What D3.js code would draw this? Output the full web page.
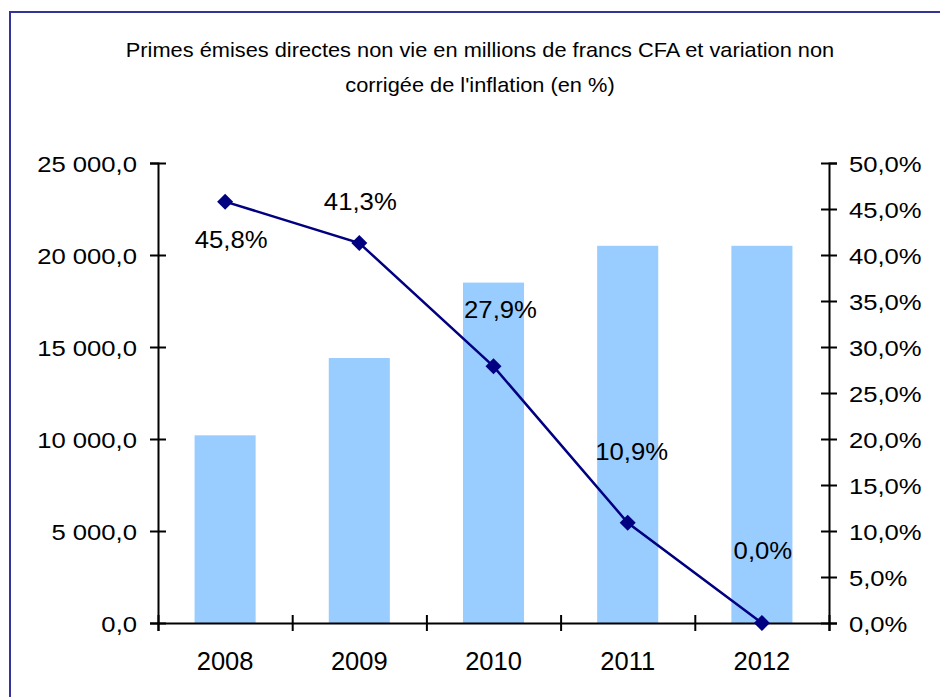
<!DOCTYPE html>
<html>
<head>
<meta charset="utf-8">
<script src="https://cdn.jsdelivr.net/npm/d3@7"></script>
<style>
  html, body { margin: 0; padding: 0; background: #fff; }
  svg { display: block; font-family: "Liberation Sans", Arial, sans-serif; }
</style>
</head>
<body>
<svg id="chart" width="940" height="697"></svg>
<script>
// Chart data
const years = ["2008", "2009", "2010", "2011", "2012"];
const primes = [10200, 14400, 18500, 20500, 20500];      // millions de francs CFA
const variation = [45.8, 41.3, 27.9, 10.9, 0.0];          // % non corrigée de l'inflation
const leftTicks = [0, 5000, 10000, 15000, 20000, 25000];
const rightTicks = [0, 5, 10, 15, 20, 25, 30, 35, 40, 45, 50];
const titleLines = [
  "Primes émises directes non vie en millions de francs CFA et variation non",
  "corrigée de l'inflation (en %)"
];

// Layout
const W = 940, H = 697;
const plot = { left: 158, right: 829, top: 163, bottom: 623 };
// label offsets (dx, dy) from each marker to the centre of its value label
const labelOffsets = [[6, 38], [1, -42], [7, -57], [4, -72], [1, -73]];

const fr = d3.formatLocale({ decimal: ",", thousands: " ", grouping: [3], currency: ["", ""] });
const fmtLeft = fr.format(",.1f");
const fmtPct = v => fr.format(".1f")(v) + "%";

const svg = d3.select("#chart");

// Frame
svg.append("rect")
  .attr("x", 10).attr("y", 12)
  .attr("width", W + 20).attr("height", H + 20)
  .attr("fill", "#fff").attr("stroke", "#333399").attr("stroke-width", 2);

// Horizontally widened text helper
function wide(sel, sx) {
  sel.each(function () {
    const t = d3.select(this);
    const x = +t.attr("x") || 0;
    t.attr("x", x / sx).attr("transform", `scale(${sx},1)`);
  });
}

// Title
const title = svg.append("g").attr("fill", "#000").attr("font-size", 20).attr("text-anchor", "middle");
title.selectAll("text").data(titleLines).join("text")
  .attr("x", 480).attr("y", (d, i) => 57 + i * 35)
  .text(d => d)
  .call(wide, 1.09);

// Scales
const x = d3.scaleBand().domain(years).range([plot.left, plot.right])
  .paddingInner(0.545).paddingOuter(0.2725);
const xEdge = d3.scaleLinear().domain([0, years.length]).range([plot.left, plot.right]);
const yL = d3.scaleLinear().domain([0, 25000]).range([plot.bottom, plot.top]);
const yR = d3.scaleLinear().domain([0, 50]).range([plot.bottom, plot.top]);

// Bars
svg.append("g").selectAll("rect").data(years).join("rect")
  .attr("x", d => x(d))
  .attr("width", x.bandwidth())
  .attr("y", (d, i) => yL(primes[i]))
  .attr("height", (d, i) => yL(0) - yL(primes[i]))
  .attr("fill", "#99CCFF");

// Axes
function styleAxis(g, orient) {
  g.select(".domain").attr("stroke", "#000").attr("stroke-width", 2);
  g.selectAll(".tick line").attr("stroke", "#000").attr("stroke-width", 2);
  if (orient === "v") g.selectAll(".tick line").attr("x1", -8).attr("x2", 8);
  else g.selectAll(".tick line").attr("y1", -8).attr("y2", 8);
}

const axL = svg.append("g").attr("transform", `translate(${plot.left},0)`)
  .call(d3.axisLeft(yL).tickValues(leftTicks).tickFormat(fmtLeft).tickSizeOuter(0).tickSize(8))
  .call(styleAxis, "v");
axL.selectAll(".tick text").attr("x", -21).attr("dy", "0.36em")
  .attr("font-size", 22.5).attr("font-family", "Liberation Sans, Arial, sans-serif").attr("fill", "#000")
  .call(wide, 1.14);

const axR = svg.append("g").attr("transform", `translate(${plot.right},0)`)
  .call(d3.axisRight(yR).tickValues(rightTicks).tickFormat(fmtPct).tickSizeOuter(0).tickSize(8))
  .call(styleAxis, "v");
axR.selectAll(".tick text").attr("x", 20).attr("dy", "0.36em")
  .attr("font-size", 22.5).attr("font-family", "Liberation Sans, Arial, sans-serif").attr("fill", "#000")
  .call(wide, 1.14);

const axB = svg.append("g").attr("transform", `translate(0,${plot.bottom})`)
  .call(d3.axisBottom(xEdge).tickValues(d3.range(years.length + 1)).tickFormat("").tickSizeOuter(0).tickSize(8))
  .call(styleAxis, "h");

// Category labels
svg.append("g").attr("font-size", 25.5).attr("text-anchor", "middle").attr("fill", "#000")
  .selectAll("text").data(years).join("text")
  .attr("x", d => x(d) + x.bandwidth() / 2)
  .attr("y", plot.bottom + 47)
  .text(d => d);

// Line series
const cx = d => x(d) + x.bandwidth() / 2;
const pts = years.map((d, i) => [cx(d), yR(variation[i])]);
svg.append("path")
  .attr("d", d3.line()(pts))
  .attr("fill", "none").attr("stroke", "#000080").attr("stroke-width", 2.5);

svg.append("g").selectAll("path").data(pts).join("path")
  .attr("d", d3.symbol(d3.symbolSquare, 128)())
  .attr("transform", d => `translate(${d[0]},${d[1]}) rotate(45)`)
  .attr("fill", "#000080");

// Value labels
svg.append("g").attr("font-size", 24.5).attr("text-anchor", "middle").attr("fill", "#000")
  .selectAll("text").data(variation).join("text")
  .attr("x", (v, i) => pts[i][0] + labelOffsets[i][0])
  .attr("y", (v, i) => pts[i][1] + labelOffsets[i][1])
  .attr("dy", "0.36em")
  .text(v => fmtPct(v))
  .call(wide, 1.05);
</script>
</body>
</html>
